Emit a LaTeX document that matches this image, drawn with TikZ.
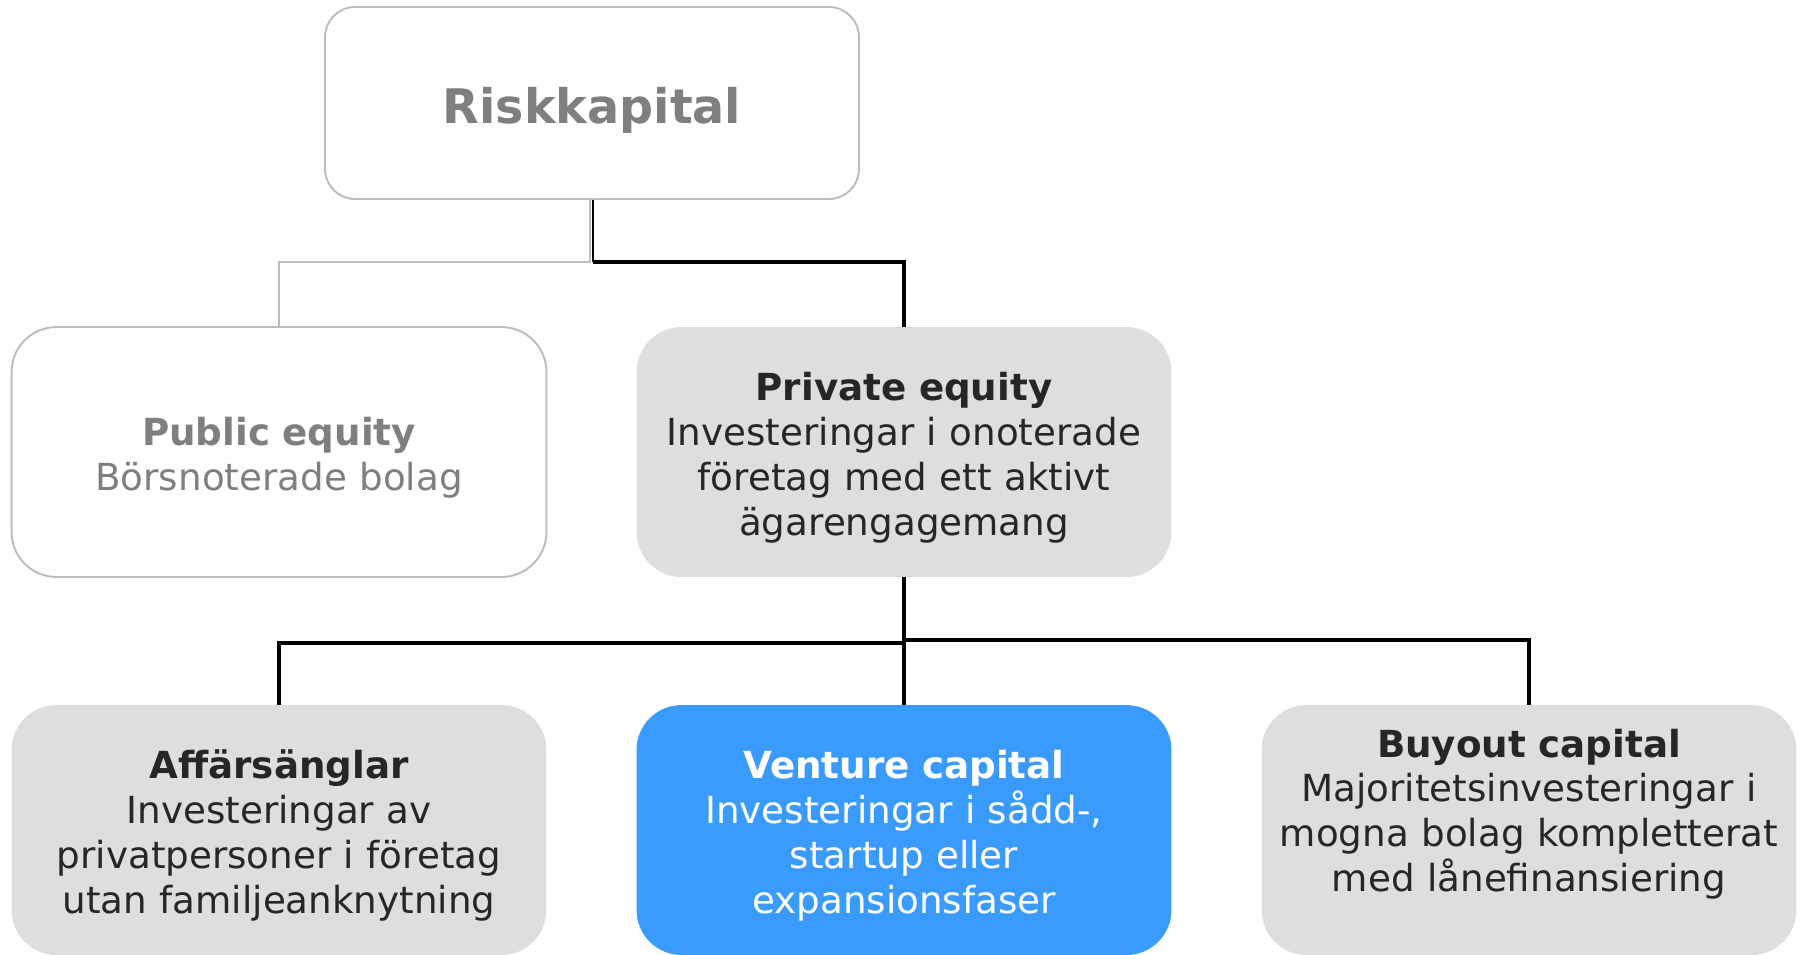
\documentclass[tikz,border=0pt]{standalone}
\usepackage{fontspec}
\setmainfont{DejaVu Sans}
\usepackage{xcolor}
\usetikzlibrary{positioning}

\definecolor{boxgray}{HTML}{DEDEDE}
\definecolor{edgegray}{HTML}{BDBDBD}
\definecolor{textgray}{HTML}{7F7F7F}
\definecolor{textdark}{HTML}{262626}
\definecolor{vcblue}{HTML}{3A9BFF}

\tikzset{
    rootbox/.style={draw=edgegray, line width=1.1pt, fill=white, rounded corners=0.6cm,
        minimum width=10.68cm, minimum height=3.84cm, text width=10cm, align=center,
        text=textgray, font=\fontsize{27.1}{32}\selectfont\bfseries,
        execute at begin node={\rule{0pt}{28.4pt}}},
    catbox/.style={rounded corners=0.9cm, minimum width=10.7cm, minimum height=5cm,
        text width=10cm, align=center, font=\fontsize{21.2}{25.5}\selectfont,
        execute at begin node={\rule{0pt}{22.7pt}}},
    publicbox/.style={catbox, draw=edgegray, line width=1.1pt, fill=white, text=textgray},
    privatebox/.style={catbox, fill=boxgray, text=textdark},
    vcbox/.style={catbox, fill=vcblue, text=white},
    greylink/.style={draw=edgegray, line width=1.4pt},
    blacklink/.style={draw=black, line width=2.7pt},
    thinlink/.style={draw=black, line width=1.2pt},
}

\begin{document}
\begin{tikzpicture}[x=0.02cm, y=-0.02cm]
    \useasboundingbox (0,0) rectangle (1805,954);

    \node[rootbox] (risk) at (592,103) {Riskkapital};

    \node[publicbox] (public) at (279,452) {\textbf{Public equity}\\Börsnoterade bolag};
    \node[privatebox] (private) at (904,452) {\textbf{Private equity}\\Investeringar i onoterade\\företag med ett aktivt\\ägarengagemang};

    \node[privatebox] (angels) at (279,830) {\textbf{Affärsänglar}\\Investeringar av\\privatpersoner i företag\\utan familjeanknytning};
    \node[vcbox] (venture) at (904,830) {\textbf{Venture capital}\\Investeringar i sådd-,\\startup eller\\expansionsfaser};
    \node[privatebox] (buyout) at (1529,830) {\textbf{Buyout capital}\\Majoritetsinvesteringar i\\mogna bolag kompletterat\\med lånefinansiering\\[-4pt]\strut};

    % first level
    \coordinate (forkgrey) at (590,262);
    \coordinate (forkblack) at (593,262);
    \draw[greylink] (risk.south -| forkgrey) -- (forkgrey) -| (public.north);
    \draw[thinlink] (risk.south -| forkblack) -- (forkblack);
    \draw[blacklink] (forkblack) -| (private.north);

    % second level
    \coordinate (forkleft) at (904,643);
    \coordinate (forkright) at (904,640);
    \draw[blacklink] (private.south) -- (forkleft) -| (angels.north);
    \draw[blacklink] (forkright) -| (buyout.north);
    \draw[blacklink] (forkleft) -- (venture.north);
\end{tikzpicture}
\end{document}
